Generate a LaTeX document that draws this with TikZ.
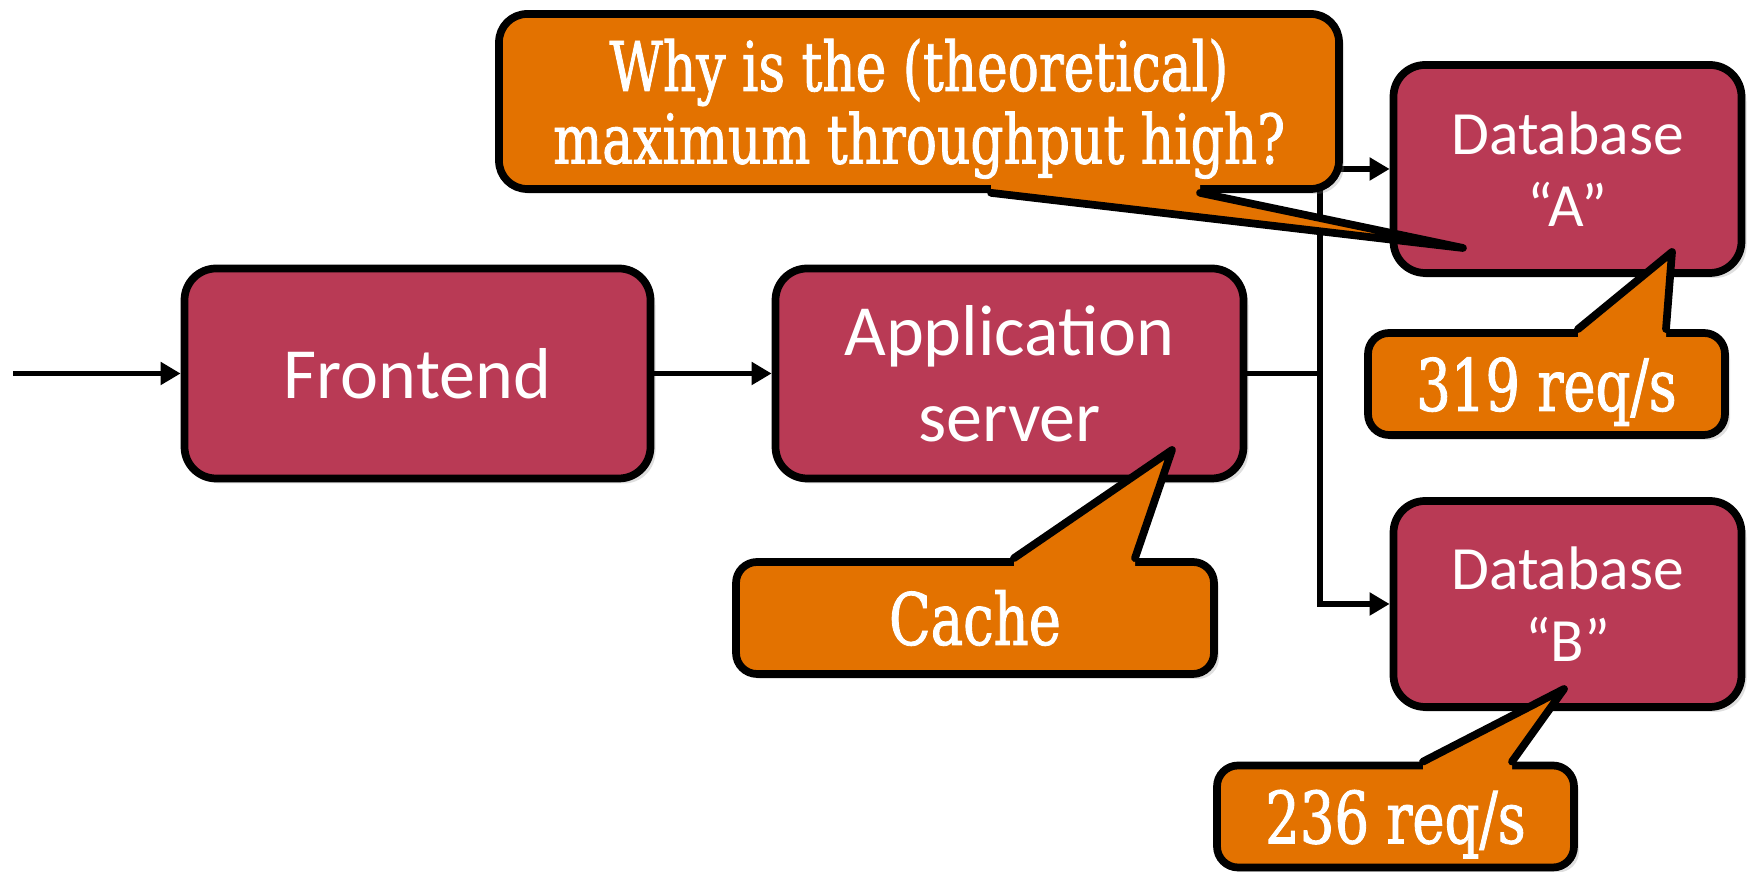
\documentclass[tikz,border=0pt]{standalone}
\usepackage{fontspec}
\setmainfont{Carlito}
\newfontfamily\notefont[FakeStretch=0.84,FakeBold=1.2]{DejaVu Serif Condensed}
\definecolor{boxred}{RGB}{185,58,85}
\definecolor{noteorange}{RGB}{227,114,0}
\usetikzlibrary{arrows.meta,positioning,calc,shadows}
\newcommand{\notetext}[1]{\raisebox{-0.1cm}[\height][\depth]{\begin{tabular}{@{}c@{}}#1\end{tabular}}}

\begin{document}
\begin{tikzpicture}[
  scale=1.0,
  every node/.style={text=white},
  tierbox/.style={draw=black,line width=2.2pt,fill=boxred,rounded corners=9pt,
                  align=center,inner sep=0pt,
                  drop shadow={shadow xshift=0.05cm,shadow yshift=-0.05cm,opacity=0.25}},
  notebox/.style={draw=black,line width=2.2pt,fill=noteorange,rounded corners=6pt,
                  inner sep=0pt,
                  drop shadow={shadow xshift=0.05cm,shadow yshift=-0.05cm,opacity=0.25}},
  flow/.style={line width=1.5pt,-{Triangle[length=0.2cm,width=0.22cm]}},
  tail/.style={draw=black,line width=2.2pt,line join=round,line cap=round},
]
  \useasboundingbox (0,0) rectangle (17.54,8.72);

  % Tiers
  \node[tierbox,minimum width=4.66cm,minimum height=2.1cm,
        font=\fontsize{20.5}{24.5}\selectfont] (fe) at (4.175,4.985) {Frontend};
  \node[tierbox,minimum width=4.68cm,minimum height=2.1cm,
        font=\fontsize{20.5}{24.5}\selectfont] (app) at (10.095,4.985) {Application\\server};
  \node[tierbox,minimum width=3.48cm,minimum height=2.08cm,
        font=\fontsize{17.5}{20.5}\selectfont] (dba) at (15.675,7.03) {Database\\“A”};
  \node[tierbox,minimum width=3.48cm,minimum height=2.06cm,
        font=\fontsize{17.5}{20.5}\selectfont] (dbb) at (15.675,2.68) {Database\\“B”};

  % Requests
  \coordinate (in) at (0.13,4.985);
  \coordinate (bus) at (13.2,4.985);
  \draw[flow] (in) -- (fe);
  \draw[flow] (fe) -- (app);
  \draw[line width=1.5pt] (app) -- (bus);
  \draw[flow] (bus) |- (dba);
  \draw[flow] (bus) |- (dbb);

  % Note 1
  \node[notebox,rounded corners=8pt,minimum width=8.4cm,minimum height=1.75cm,
        font=\notefont\fontsize{19.5}{19.5}\selectfont] (why) at (9.19,7.705)
        {\notetext{Why is the (theoretical)\\maximum throughput high?}};
  \fill[noteorange] (9.91,0 |- why.south) -- (14.63,6.24) -- (12.0,0 |- why.south)
        -- ++(0,0.12) -- ($(9.91,0 |- why.south)+(0,0.12)$) -- cycle;
  \draw[tail] (9.91,0 |- why.south) -- (14.63,6.24) -- (12.0,0 |- why.south);

  % Note 2
  \node[notebox,minimum width=3.57cm,minimum height=1.02cm,
        font=\notefont\fontsize{20.5}{24}\selectfont] (rpsa) at (15.465,4.88) {\notetext{319 req/s}};
  \fill[noteorange] (15.78,0 |- rpsa.north) -- (16.72,6.2) -- (16.66,0 |- rpsa.north)
        -- ++(0,-0.12) -- ($(15.78,0 |- rpsa.north)+(0,-0.12)$) -- cycle;
  \draw[tail] (15.78,0 |- rpsa.north) -- (16.72,6.2) -- (16.66,0 |- rpsa.north);

  % Note 3
  \node[notebox,minimum width=4.78cm,minimum height=1.12cm,
        font=\notefont\fontsize{20.5}{24}\selectfont] (cache) at (9.75,2.54) {\notetext{Cache}};
  \fill[noteorange] (10.14,0 |- cache.north) -- (11.72,4.22) -- (11.35,0 |- cache.north)
        -- ++(0,-0.12) -- ($(10.14,0 |- cache.north)+(0,-0.12)$) -- cycle;
  \draw[tail] (10.14,0 |- cache.north) -- (11.72,4.22) -- (11.35,0 |- cache.north);

  % Note 4
  \node[notebox,minimum width=3.57cm,minimum height=1.02cm,
        font=\notefont\fontsize{20.5}{24}\selectfont] (rpsb) at (13.955,0.555) {\notetext{236 req/s}};
  \fill[noteorange] (14.23,0 |- rpsb.north) -- (15.64,1.83) -- (15.12,0 |- rpsb.north)
        -- ++(0,-0.12) -- ($(14.23,0 |- rpsb.north)+(0,-0.12)$) -- cycle;
  \draw[tail] (14.23,0 |- rpsb.north) -- (15.64,1.83) -- (15.12,0 |- rpsb.north);
\end{tikzpicture}
\end{document}
